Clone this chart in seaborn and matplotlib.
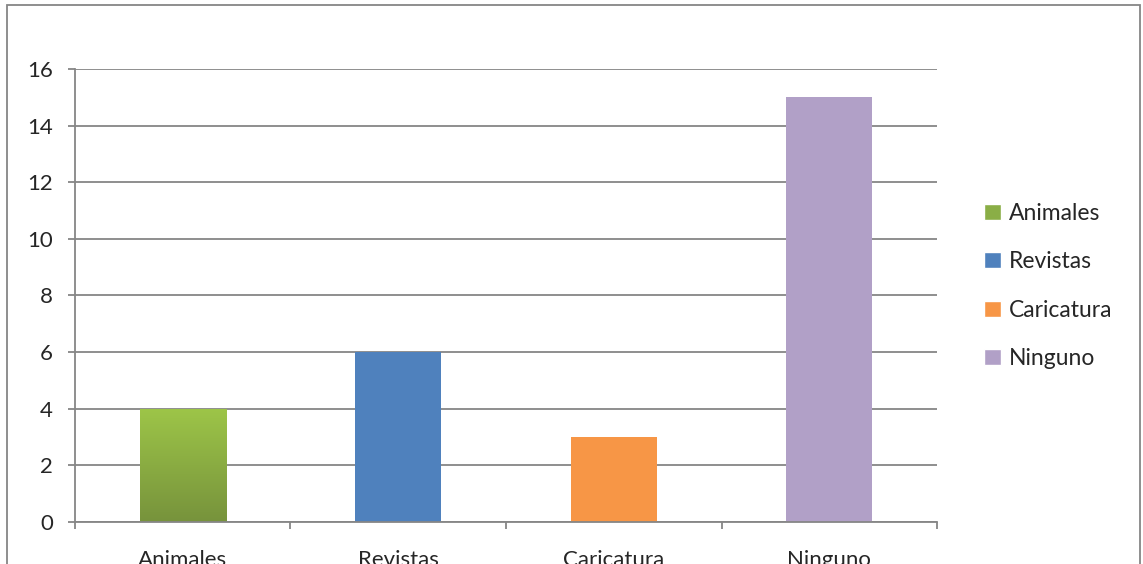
import numpy as np
import pandas as pd
import matplotlib
matplotlib.use("Agg")
import matplotlib.pyplot as plt
import matplotlib.patches as mpatches
from matplotlib.colors import LinearSegmentedColormap
import seaborn as sns

sns.set_style("white")
plt.rcParams['font.family'] = ['Lato', 'DejaVu Sans']

# data
categories = ["Animales", "Revistas", "Caricatura", "Ninguno"]
values = [4, 6, 3, 15]
colors = ["#9BBB59", "#4F81BD", "#F79646", "#B1A0C7"]
yticks = [0, 2, 4, 6, 8, 10, 12, 14, 16]

df = pd.DataFrame({"cat": categories, "val": values})
grid_col = "#868686"
fs = 16

fig = plt.figure(figsize=(11.43, 5.64), dpi=100)
ax = fig.add_axes([0.0656, 0.0745, 0.7542, 0.8032])

sns.barplot(data=df, x="cat", y="val", hue="cat", palette=colors,
            dodge=False, width=0.4, ax=ax, legend=True, saturation=1,
            linewidth=0)

# gradient on the green bar (light at top, darker at bottom)
bar = ax.patches[0]
x0, w = bar.get_x(), bar.get_width()
h = bar.get_height()
cmap = LinearSegmentedColormap.from_list("g", ["#77933C", "#9DC548"])
grad = np.linspace(0, 1, 100).reshape(-1, 1)
im = ax.imshow(grad, cmap=cmap, origin="lower", aspect="auto",
               extent=(x0, x0 + w, 0, h), zorder=bar.get_zorder() + 0.1)
im.set_clip_path(bar)

ax.set_xlim(-0.5, len(categories) - 0.5)
ax.set_ylim(0, 16)
ax.set_yticks(yticks)
ax.yaxis.grid(True, color=grid_col, linewidth=1.3)
ax.set_axisbelow(True)
ax.set_xlabel("")
ax.set_ylabel("")

for s in ["top", "right"]:
    ax.spines[s].set_visible(False)
for s in ["left", "bottom"]:
    ax.spines[s].set_color(grid_col)
    ax.spines[s].set_linewidth(1.3)

ax.tick_params(axis="y", length=5, width=1.3, color=grid_col,
               labelsize=fs, pad=11, left=True)
ax.set_xticks(range(len(categories)))
ax.set_xticklabels(categories)
ax.tick_params(axis="x", which="major", length=0, labelsize=fs, pad=20)
ax.set_xticks(np.arange(-0.5, len(categories), 1), minor=True)
ax.tick_params(axis="x", which="minor", length=5, width=1.3,
               color=grid_col, bottom=True)

ax.legend_.remove()
handles = [mpatches.Patch(facecolor=c) for c in colors]
handles[0] = mpatches.Patch(facecolor="#8AAE46")
fig.legend(handles, categories, loc="center left",
           bbox_to_anchor=(0.861, 0.493), frameon=False, fontsize=16.5,
           handlelength=0.72, handleheight=0.72, handletextpad=0.35,
           labelspacing=1.2, borderpad=0, borderaxespad=0)

# outer chart border
fig.patches.append(mpatches.Rectangle((0.006, -0.1), 0.991, 1.091,
                                      transform=fig.transFigure, fill=False,
                                      edgecolor=grid_col, linewidth=1.3))

fig.savefig("out.png", dpi=100)
